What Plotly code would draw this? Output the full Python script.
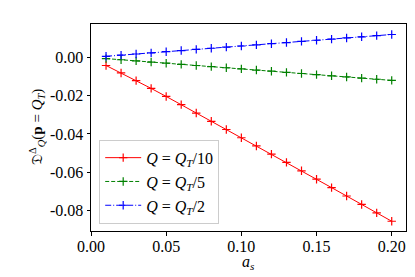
import plotly.graph_objects as go

a_s = [0.01, 0.02, 0.03, 0.04, 0.05, 0.06, 0.07, 0.08, 0.09, 0.10,
       0.11, 0.12, 0.13, 0.14, 0.15, 0.16, 0.17, 0.18, 0.19, 0.20]
q_t10 = [-0.0042, -0.0081, -0.0121, -0.0162, -0.0204, -0.0247, -0.0291, -0.0334, -0.0377, -0.0420,
         -0.0463, -0.0506, -0.0549, -0.0593, -0.0637, -0.0681, -0.0725, -0.0769, -0.0813, -0.0857]
q_t5 = [-0.0006, -0.0012, -0.0018, -0.0024, -0.0030, -0.0036, -0.0042, -0.0048, -0.0054, -0.0060,
        -0.0066, -0.0072, -0.0078, -0.0084, -0.0090, -0.0096, -0.0102, -0.0108, -0.0114, -0.0120]
q_t2 = [0.0006, 0.0012, 0.0018, 0.0024, 0.0030, 0.0036, 0.0042, 0.0048, 0.0054, 0.0060,
        0.0066, 0.0072, 0.0078, 0.0084, 0.0090, 0.0096, 0.0102, 0.0108, 0.0114, 0.0120]
names = ["<i>Q</i> = <i>Q</i><sub><i>T</i></sub>/10",
         "<i>Q</i> = <i>Q</i><sub><i>T</i></sub>/5",
         "<i>Q</i> = <i>Q</i><sub><i>T</i></sub>/2"]
x_ticks = [0.00, 0.05, 0.10, 0.15, 0.20]
y_ticks = [-0.08, -0.06, -0.04, -0.02, 0.00]
x_title = "<i>a</i><sub><i>s</i></sub>"
y_title = "𝔇<sup>Δ</sup><sub><i>Q</i></sub>(<b>p</b> = <i>Q</i><sub><i>T</i></sub>)"

FONT = "Liberation Serif"
series = [(q_t10, "#ff0000", "solid"), (q_t5, "#008000", "4px,2px"), (q_t2, "#0000ff", "6px,2px,1px,2px")]

fig = go.Figure()
for (ys, col, dash), nm in zip(series, names):
    fig.add_trace(go.Scatter(
        x=a_s, y=ys, name=nm, mode="lines+markers",
        line=dict(color=col, width=1, dash=dash),
        marker=dict(symbol="cross-thin", size=6, line=dict(color=col, width=1.2), color=col),
    ))

axis_common = dict(
    showline=True, linecolor="black", linewidth=1, mirror=True,
    ticks="outside", ticklen=3.5, tickwidth=1, tickcolor="black",
    showgrid=False, zeroline=False,
    tickfont=dict(family=FONT, size=16, color="black"),
)
fig.update_xaxes(range=[0, 0.2095], tickvals=x_ticks, ticklabelstandoff=-3,
                 ticktext=[f"{v:.2f}" for v in x_ticks], **axis_common)
fig.update_yaxes(range=[-0.0908, 0.0175], tickvals=y_ticks,
                 ticktext=[f"{v:.2f}" for v in y_ticks], **axis_common)
fig.add_annotation(text=x_title, xref="paper", yref="paper", x=0.5, y=-0.15,
                   xanchor="center", yanchor="middle", showarrow=False,
                   font=dict(family=FONT, size=16, color="black"))
fig.add_annotation(text=y_title, xref="paper", yref="paper", x=-0.173, y=0.5,
                   xanchor="center", yanchor="middle", showarrow=False, textangle=-90,
                   font=dict(family=FONT, size=15, color="black"))
fig.update_layout(
    width=415, height=277,
    margin=dict(l=83, r=17, t=16, b=54),
    paper_bgcolor="white", plot_bgcolor="white",
    font=dict(family=FONT, size=16, color="black"),
    legend=dict(x=0.026, y=0.035, xanchor="left", yanchor="bottom",
                bgcolor="rgba(255,255,255,0.8)", bordercolor="#cccccc", borderwidth=1,
                font=dict(family=FONT, size=16, color="black"),
                tracegroupgap=0, itemwidth=36),
    showlegend=True,
)
fig.write_html("out.html")
